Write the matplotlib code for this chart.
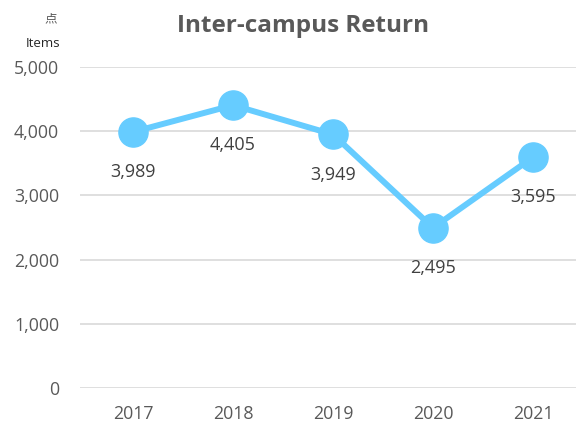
import numpy as np
import matplotlib.pyplot as plt

years = ['2017', '2018', '2019', '2020', '2021']
returns = [3989, 4405, 3949, 2495, 3595]
yticks = [0, 1000, 2000, 3000, 4000, 5000]

plt.rcParams['font.family'] = ['Open Sans', 'Noto Sans CJK JP', 'DejaVu Sans']
gray = '#595959'
blue = '#66CCFF'

fig = plt.figure(figsize=(5.76, 4.26), dpi=100)
ax = fig.add_axes([0.139, 0.0892, 0.861, 0.7535])

x = np.arange(len(years))
ax.plot(x, returns, color=blue, lw=4.3, marker='o', ms=21, zorder=3)

# data labels under the points
for i, v in enumerate(returns):
    ax.annotate(f'{v:,}', (x[i], v), xytext=(0, -29), textcoords='offset points',
                ha='center', va='center', fontsize=13, color='#404040')

ax.set_ylim(0, 5000)
ax.set_xlim(-0.53, 4.43)
ax.set_yticks(yticks)
ax.set_yticklabels([f'{t:,}' for t in yticks])
ax.set_xticks(x)
ax.set_xticklabels(years)
ax.tick_params(length=0, labelsize=12.8, colors=gray)
ax.tick_params(axis='y', pad=15)
ax.tick_params(axis='x', pad=12.5)
ax.grid(axis='y', color='#D9D9D9', lw=1.2)
ax.set_axisbelow(True)
for s in ax.spines.values():
    s.set_visible(False)

fig.text(0.527, 0.94, 'Inter-campus Return', ha='center', va='center',
         fontsize=17.5, fontweight='bold', color=gray)
fig.text(0.088, 0.955, '点', ha='center', va='center', fontsize=9, color=gray)
fig.text(0.075, 0.899, 'Items', ha='center', va='center', fontsize=9.5, color='#262626')

fig.savefig('out.png', dpi=100)
